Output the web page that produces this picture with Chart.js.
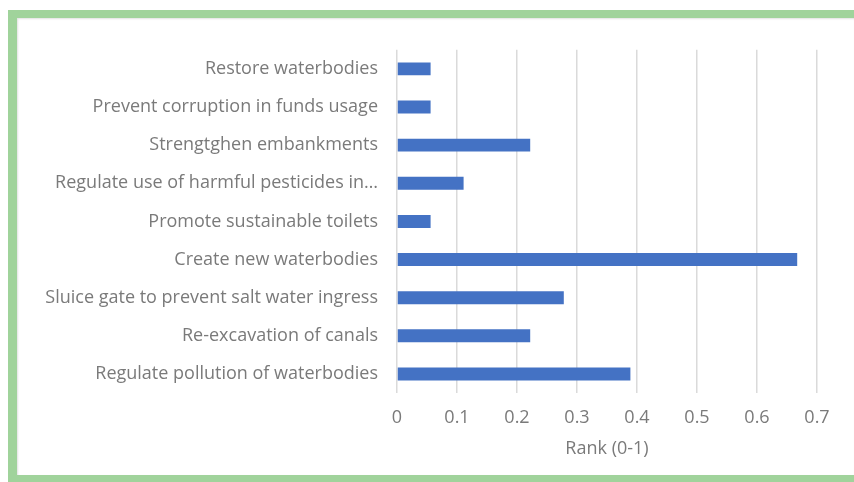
<!DOCTYPE html>
<html>
<head>
<meta charset="utf-8">
<script src="https://cdn.jsdelivr.net/npm/chart.js@4/dist/chart.umd.min.js"></script>
<style>
  html, body { margin: 0; padding: 0; background: #ffffff; }
  body { width: 854px; height: 482px; position: relative; overflow: hidden; }
  .frame {
    position: absolute; left: 8px; top: 10px; width: 846px; height: 472px;
    background: #a0d39b;
  }
  .panel {
    position: absolute; left: 9px; top: 8px; right: 0; bottom: 7px;
    background: #ffffff;
    box-shadow: inset 1px 1px 2px rgba(0,0,0,0.12);
  }
  .chart-box { position: absolute; left: 0; top: 2px; width: 837px; height: 455px; }
</style>
</head>
<body>
<div class="frame">
  <div class="panel">
    <div class="chart-box"><canvas id="chart"></canvas></div>
  </div>
</div>
<script>
// Measures, listed top-to-bottom as displayed
const categories = [
  "Restore waterbodies",
  "Prevent corruption in funds usage",
  "Strengtghen embankments",
  "Regulate use of harmful pesticides in\u2026",
  "Promote sustainable toilets",
  "Create new waterbodies",
  "Sluice gate to prevent salt water ingress",
  "Re-excavation of canals",
  "Regulate pollution of waterbodies"
];
const rankValues = [0.056, 0.056, 0.222, 0.111, 0.056, 0.667, 0.278, 0.222, 0.389];
const xTickValues = [0, 0.1, 0.2, 0.3, 0.4, 0.5, 0.6, 0.7];
const xAxisTitle = "Rank (0-1)";

const textColor = "#7a7a7a";
const fontFamily = "'Open Sans', 'Liberation Sans', sans-serif";

new Chart(document.getElementById("chart"), {
  type: "bar",
  data: {
    labels: categories,
    datasets: [{
      label: xAxisTitle,
      data: rankValues,
      backgroundColor: "#4472c4",
      borderWidth: 0,
      categoryPercentage: 1.0,
      barPercentage: 0.34
    }]
  },
  options: {
    indexAxis: "y",
    responsive: true,
    maintainAspectRatio: false,
    animation: false,
    layout: { padding: { top: 26, right: 37, bottom: 0, left: 0 } },
    plugins: {
      legend: { display: false },
      tooltip: { enabled: false }
    },
    scales: {
      x: {
        min: 0,
        max: 0.7,
        afterBuildTicks: (scale) => {
          scale.ticks = xTickValues.map(v => ({ value: v }));
        },
        afterFit: (scale) => { scale.height = 82; },
        grid: { color: "#dadada", lineWidth: 1.5, drawTicks: false },
        border: { display: false },
        ticks: {
          color: textColor,
          padding: 14.5,
          font: { family: fontFamily, size: 18 },
          callback: (v) => String(Math.round(v * 10) / 10)
        },
        title: {
          display: true,
          text: xAxisTitle,
          color: textColor,
          padding: { top: 0, bottom: 15.5 },
          font: { family: fontFamily, size: 18 }
        }
      },
      y: {
        afterFit: (scale) => { scale.width = 380; },
        grid: { display: false, drawTicks: false },
        border: { display: false },
        ticks: {
          color: textColor,
          padding: 19,
          font: { family: fontFamily, size: 18 }
        }
      }
    }
  }
});
</script>
</body>
</html>
